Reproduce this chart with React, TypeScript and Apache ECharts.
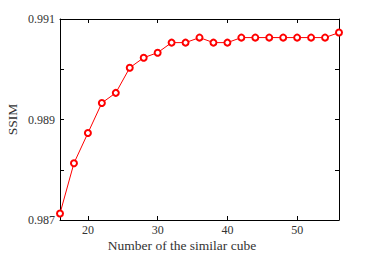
import React, { useEffect, useRef } from "react";
import * as echarts from "echarts";

const cubeCounts = [16, 18, 20, 22, 24, 26, 28, 30, 32, 34, 36, 38, 40, 42, 44, 46, 48, 50, 52, 54, 56];
const ssimValues = [
  0.98713, 0.98813, 0.98873, 0.98933, 0.98953, 0.99003, 0.99023, 0.99033, 0.99053, 0.99053, 0.99063,
  0.99053, 0.99053, 0.99063, 0.99063, 0.99063, 0.99063, 0.99063, 0.99063, 0.99063, 0.99073,
];
const xLabelTicks = [20, 30, 40, 50];
const yLabelTicks = ["0.987", "0.989", "0.991"];

export default function App() {
  const ref = useRef<HTMLDivElement>(null);
  useEffect(() => {
    if (!ref.current) return;
    const chart = echarts.init(ref.current, undefined, { renderer: "svg" });
    const font = "'Liberation Serif', 'Times New Roman', serif";
    const axisLine = { show: true, lineStyle: { color: "#000", width: 1 } };
    const tick = { show: true, inside: true, length: 4, lineStyle: { color: "#000" } };
    chart.setOption({
      animation: false,
      backgroundColor: "#fff",
      grid: { left: 60, right: 35, top: 19, bottom: 33, containLabel: false, outerBoundsMode: "none" },
      xAxis: [
        {
          type: "value",
          min: 16,
          max: 56,
          name: "Number of the similar cube",
          nameLocation: "middle",
          nameGap: 18,
          nameMoveOverlap: false,
          nameTextStyle: { fontFamily: font, fontSize: 13.5, color: "#333", padding: [0, 35, 0, 0] },
          axisLine,
          axisTick: tick,
          splitLine: { show: false },
          axisLabel: {
            fontFamily: font,
            fontSize: 12,
            color: "#333",
            margin: 4,
            formatter: (v: number) => (xLabelTicks.includes(v) ? String(v) : ""),
          },
        },
        {
          type: "value",
          position: "top",
          min: 16,
          max: 56,
          axisLine,
          axisTick: tick,
          splitLine: { show: false },
          axisLabel: { show: false },
        },
      ],
      yAxis: [
        {
          type: "value",
          min: 0.987,
          max: 0.991,
          interval: 0.001,
          name: "SSIM",
          nameLocation: "middle",
          nameGap: 41,
          nameMoveOverlap: false,
          nameTextStyle: { fontFamily: font, fontSize: 13.5, color: "#333" },
          axisLine,
          axisTick: tick,
          splitLine: { show: false },
          axisLabel: {
            fontFamily: font,
            fontSize: 12,
            color: "#333",
            margin: 5,
            formatter: (v: number) => {
              const s = v.toFixed(3);
              return yLabelTicks.includes(s) ? s : "";
            },
          },
        },
        {
          type: "value",
          position: "right",
          min: 0.987,
          max: 0.991,
          interval: 0.001,
          axisLine,
          axisTick: tick,
          splitLine: { show: false },
          axisLabel: { show: false },
        },
      ],
      series: [
        {
          type: "line",
          data: cubeCounts.map((c, i) => [c, ssimValues[i]]),
          symbol: "emptyCircle",
          symbolSize: 6,
          lineStyle: { color: "#ff0000", width: 1 },
          itemStyle: { color: "#ff0000", borderColor: "#ff0000", borderWidth: 1 },
        },
      ],
    });
    return () => chart.dispose();
  }, []);
  return (
    <div
      ref={ref}
      style={{ position: "fixed", left: 0, top: 0, width: 374, height: 253, background: "#fff" }}
    />
  );
}
